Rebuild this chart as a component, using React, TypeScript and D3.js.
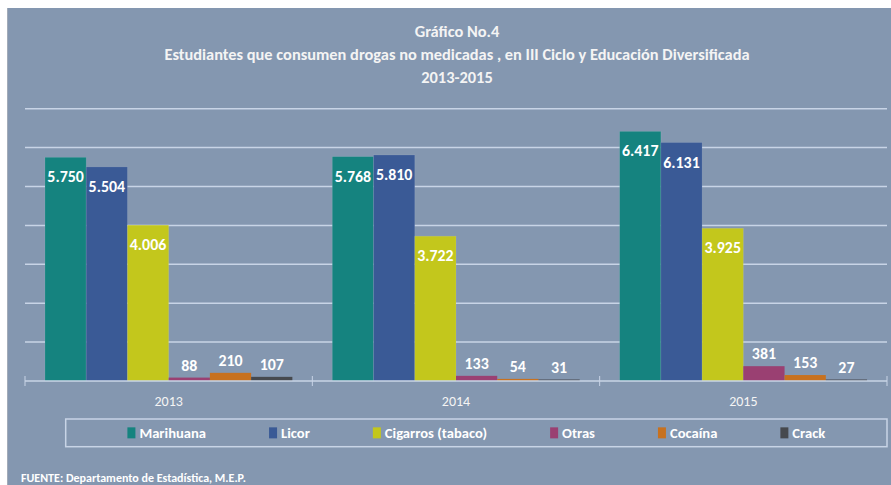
import React, { useEffect, useRef } from 'react';
import * as d3 from 'd3';

const years: string[] = ["2013", "2014", "2015"];
const seriesNames: string[] = ["Marihuana", "Licor", "Cigarros (tabaco)", "Otras", "Cocaína", "Crack"];
const seriesColors: string[] = ["#15837f", "#3a5a96", "#c3c71c", "#9a4072", "#c7711f", "#46494e"];

const marihuana: number[] = [5750, 5768, 6417];
const licor: number[] = [5504, 5810, 6131];
const cigarros: number[] = [4006, 3722, 3925];
const otras: number[] = [88, 133, 381];
const cocaina: number[] = [210, 54, 153];
const crack: number[] = [107, 31, 27];

const yTicks: number[] = [1000, 2000, 3000, 4000, 5000, 6000, 7000];

const titleLines: string[] = [
    "Gráfico No.4",
    "Estudiantes que consumen drogas no medicadas , en III Ciclo y Educación Diversificada",
    "2013-2015"
];
const sourceNote = "FUENTE: Departamento de Estadística, M.E.P.";

const FONT = "Carlito, Calibri, 'Liberation Sans Narrow', 'DejaVu Sans Condensed', sans-serif";
const BG = "#8497b0";
const GRID = "#c8d4e6";

const W = 891, H = 485;

export default function App() {
    const ref = useRef<SVGSVGElement>(null);

    useEffect(() => {
        document.body.style.margin = "0";
        const svg = d3.select(ref.current);
        svg.selectAll("*").remove();

        const allSeries = [marihuana, licor, cigarros, otras, cocaina, crack];
        const rows = years.map((yr, i) => ({
            year: yr,
            values: allSeries.map((s, k) => ({ name: seriesNames[k], value: s[i], color: seriesColors[k] }))
        }));

        const fmt = d3.formatLocale({ decimal: ",", thousands: ".", grouping: [3], currency: ["", ""] }).format(",d");

        // panel
        svg.append("rect").attr("x", 0).attr("y", 0).attr("width", W).attr("height", H).attr("fill", "#ffffff");
        svg.append("rect").attr("x", 7).attr("y", 8).attr("width", W - 7).attr("height", H - 8).attr("fill", BG);
        svg.append("line").attr("x1", 7.5).attr("x2", 7.5).attr("y1", 8).attr("y2", H).attr("stroke", "#a2abb8").attr("stroke-width", 1);

        // title
        svg.append("g").selectAll("text")
            .data(titleLines)
            .join("text")
            .attr("x", 457)
            .attr("y", (d, i) => 31 + i * 23)
            .attr("dy", "0.35em")
            .attr("text-anchor", "middle")
            .attr("fill", "#f4f4f4")
            .attr("font-family", FONT)
            .attr("font-weight", "bold")
            .attr("font-size", 16.4)
            .text(d => d);

        const x0 = d3.scaleBand().domain(years).range([25, 887]).paddingInner(0).paddingOuter(0);
        const bw = x0.bandwidth();
        const x1 = d3.scaleBand().domain(seriesNames).range([bw * 0.0695, bw * (1 - 0.0695)]).padding(0);
        const y = d3.scaleLinear().domain([0, 7000]).range([381, 108.7]);

        // gridlines
        svg.append("g").selectAll("line")
            .data(yTicks)
            .join("line")
            .attr("x1", 25).attr("x2", 887)
            .attr("y1", d => y(d)).attr("y2", d => y(d))
            .attr("stroke", GRID).attr("stroke-width", 1.5);

        // bars
        const groups = svg.append("g").selectAll("g")
            .data(rows)
            .join("g")
            .attr("transform", d => `translate(${x0(d.year)},0)`);

        groups.selectAll("rect")
            .data(d => d.values)
            .join("rect")
            .attr("x", d => x1(d.name)!)
            .attr("y", d => Math.min(y(d.value), y(0) - 1.5))
            .attr("width", x1.bandwidth())
            .attr("height", d => Math.max(y(0) - y(d.value), 1.5))
            .attr("fill", d => d.color)
            .attr("stroke", d => d.value > 1000 ? "rgba(255,255,255,0.12)" : "none")
            .attr("stroke-width", 0.8);

        groups.selectAll("text")
            .data(d => d.values)
            .join("text")
            .attr("x", d => x1(d.name)! + x1.bandwidth() / 2)
            .attr("y", d => d.value > 1000 ? y(d.value) + 19.5 : y(d.value) - 12.5)
            .attr("dy", "0.35em")
            .attr("text-anchor", "middle")
            .attr("fill", "#ffffff")
            .attr("font-family", FONT)
            .attr("font-weight", "bold")
            .attr("font-size", 15.9)
            .text(d => fmt(d.value));

        // category axis
        const axis = svg.append("g");
        axis.append("line")
            .attr("x1", 25).attr("x2", 887)
            .attr("y1", y(0)).attr("y2", y(0))
            .attr("stroke", GRID).attr("stroke-width", 1.5);
        const tickXs = years.map(yr => x0(yr)!).concat([x0(years[years.length - 1])! + bw]);
        axis.selectAll("line.tick")
            .data(tickXs)
            .join("line")
            .attr("class", "tick")
            .attr("x1", d => d).attr("x2", d => d)
            .attr("y1", y(0) - 5).attr("y2", y(0) + 5)
            .attr("stroke", GRID).attr("stroke-width", 1);
        axis.selectAll("text")
            .data(years)
            .join("text")
            .attr("x", d => x0(d)! + bw / 2)
            .attr("y", 401)
            .attr("dy", "0.35em")
            .attr("text-anchor", "middle")
            .attr("fill", "#f4f4f4")
            .attr("font-family", FONT)
            .attr("font-size", 14)
            .text(d => d);

        // legend
        const legendX = 65.7, legendY = 419, legendW = 887 - 65.7, legendH = 27.7;
        svg.append("rect")
            .attr("x", legendX).attr("y", legendY)
            .attr("width", legendW).attr("height", legendH)
            .attr("fill", "none").attr("stroke", GRID).attr("stroke-width", 1.5);

        const leg = svg.append("g");
        const items = leg.selectAll("g")
            .data(seriesNames)
            .join("g");
        items.append("rect")
            .attr("width", 8).attr("height", 11)
            .attr("y", legendY + legendH / 2 - 5.5)
            .attr("fill", (d, i) => seriesColors[i]);
        const labels = items.append("text")
            .attr("x", 12)
            .attr("y", legendY + legendH / 2)
            .attr("dy", "0.35em")
            .attr("fill", "#ffffff")
            .attr("font-family", FONT)
            .attr("font-weight", "bold")
            .attr("font-size", 14.6)
            .text(d => d);
        const widths: number[] = [];
        labels.each(function () { widths.push((this as SVGTextElement).getComputedTextLength()); });
        const gap = 63;
        const total = d3.sum(widths) + widths.length * 12 + gap * (widths.length - 1);
        let cx = legendX + legendW / 2 - total / 2;
        items.attr("transform", (d, i) => {
            const t = `translate(${cx},0)`;
            cx += 12 + widths[i] + gap;
            return t;
        });

        // source
        svg.append("text")
            .attr("x", 21)
            .attr("y", 478)
            .attr("dy", "0.35em")
            .attr("fill", "#ffffff")
            .attr("font-family", FONT)
            .attr("font-weight", "bold")
            .attr("font-size", 12)
            .text(sourceNote);
    }, []);

    return <svg ref={ref} width={W} height={H} style={{ display: "block" }} />;
}
